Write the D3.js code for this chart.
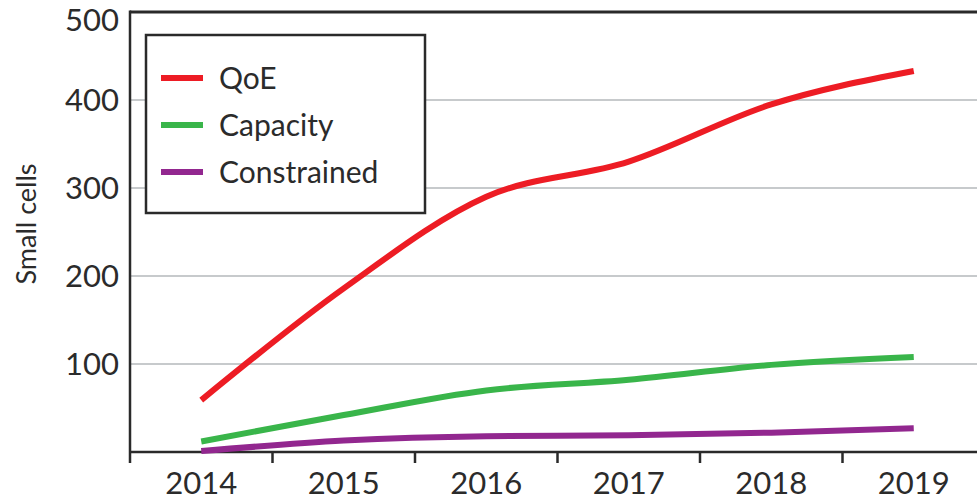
<!DOCTYPE html>
<html>
<head>
<meta charset="utf-8">
<script src="https://cdn.jsdelivr.net/npm/d3@7"></script>
<style>
  html, body { margin: 0; padding: 0; background: #fff; }
  svg { display: block; }
  text { font-family: Lato, "Open Sans", sans-serif; fill: #2b2b2b; }
</style>
</head>
<body>
<svg id="chart" width="977" height="500"></svg>
<script>
const years = ["2014", "2015", "2016", "2017", "2018", "2019"];
const qoe = [59, 186, 290, 330, 395, 433];
const capacity = [12, 42, 70, 82, 99, 108];
const constrained = [1, 13, 18, 19, 22, 27];
const yTicks = [0, 100, 200, 300, 400, 500];
const seriesNames = ["QoE", "Capacity", "Constrained"];
const seriesColors = ["#ed1c24", "#39b54a", "#92278f"];
const seriesData = [qoe, capacity, constrained];

(function () {
const svg = d3.select("#chart");
const mLeft = 130, mRight = 985, mTop = 12, mBottom = 452;

const x = d3.scaleBand().domain(years).range([mLeft, mRight]).padding(0);
const y = d3.scaleLinear().domain([0, 500]).range([mBottom, mTop]);
const cx = d => x(d) + x.bandwidth() / 2;

// gridlines
svg.append("g").selectAll("line")
  .data(yTicks.filter(t => t > 0 && t < 500))
  .join("line")
  .attr("x1", mLeft).attr("x2", 977)
  .attr("y1", d => y(d)).attr("y2", d => y(d))
  .attr("stroke", "#b4b8bb").attr("stroke-width", 1.5);

// top border
svg.append("line")
  .attr("x1", mLeft).attr("x2", 977)
  .attr("y1", y(500)).attr("y2", y(500))
  .attr("stroke", "#2a2a2a").attr("stroke-width", 3);

// y axis line
svg.append("line")
  .attr("x1", mLeft).attr("x2", mLeft)
  .attr("y1", y(500) - 1.5).attr("y2", mBottom + 11)
  .attr("stroke", "#2a2a2a").attr("stroke-width", 2.5);

// x axis line
svg.append("line")
  .attr("x1", mLeft).attr("x2", 977)
  .attr("y1", mBottom).attr("y2", mBottom)
  .attr("stroke", "#2a2a2a").attr("stroke-width", 2.5);

// x ticks at band boundaries
const boundaries = years.map(d => x(d)).concat([x(years[years.length - 1]) + x.bandwidth()]);
svg.append("g").selectAll("line")
  .data(boundaries.slice(1))
  .join("line")
  .attr("x1", d => d).attr("x2", d => d)
  .attr("y1", mBottom).attr("y2", mBottom + 11)
  .attr("stroke", "#2a2a2a").attr("stroke-width", 2.5);

// x labels
svg.append("g").selectAll("text")
  .data(years)
  .join("text")
  .attr("x", d => cx(d))
  .attr("y", 494)
  .attr("text-anchor", "middle")
  .attr("font-size", 31)
  .text(d => d);

// y labels
svg.append("g").selectAll("text")
  .data(yTicks.filter(t => t > 0))
  .join("text")
  .attr("x", 119)
  .attr("y", d => y(d) + (d === 500 ? 8 : 0))
  .attr("dy", "0.36em")
  .attr("text-anchor", "end")
  .attr("font-size", 31)
  .text(d => d);

// y axis title
svg.append("text")
  .attr("transform", "translate(36,224) rotate(-90)")
  .attr("text-anchor", "middle")
  .attr("font-size", 27)
  .text("Small cells");

// lines
const line = d3.line()
  .x((d, i) => cx(years[i]))
  .y(d => y(d))
  .curve(d3.curveMonotoneX);

svg.append("g").selectAll("path")
  .data(seriesData)
  .join("path")
  .attr("d", d => line(d))
  .attr("fill", "none")
  .attr("stroke", (d, i) => seriesColors[i])
  .attr("stroke-width", 6);

// legend
const lg = svg.append("g");
lg.append("rect")
  .attr("x", 146).attr("y", 35).attr("width", 279).attr("height", 178)
  .attr("fill", "#fff").attr("stroke", "#2a2a2a").attr("stroke-width", 2.5);
const rows = lg.selectAll("g.row")
  .data(seriesNames)
  .join("g")
  .attr("transform", (d, i) => `translate(0,${78 + i * 47})`);
rows.append("line")
  .attr("x1", 161).attr("x2", 203)
  .attr("y1", 0).attr("y2", 0)
  .attr("stroke", (d, i) => seriesColors[i])
  .attr("stroke-width", 6);
rows.append("text")
  .attr("x", 219).attr("y", 0)
  .attr("dy", "0.36em")
  .attr("font-size", 30)
  .text(d => d);
})();
</script>
</body>
</html>
